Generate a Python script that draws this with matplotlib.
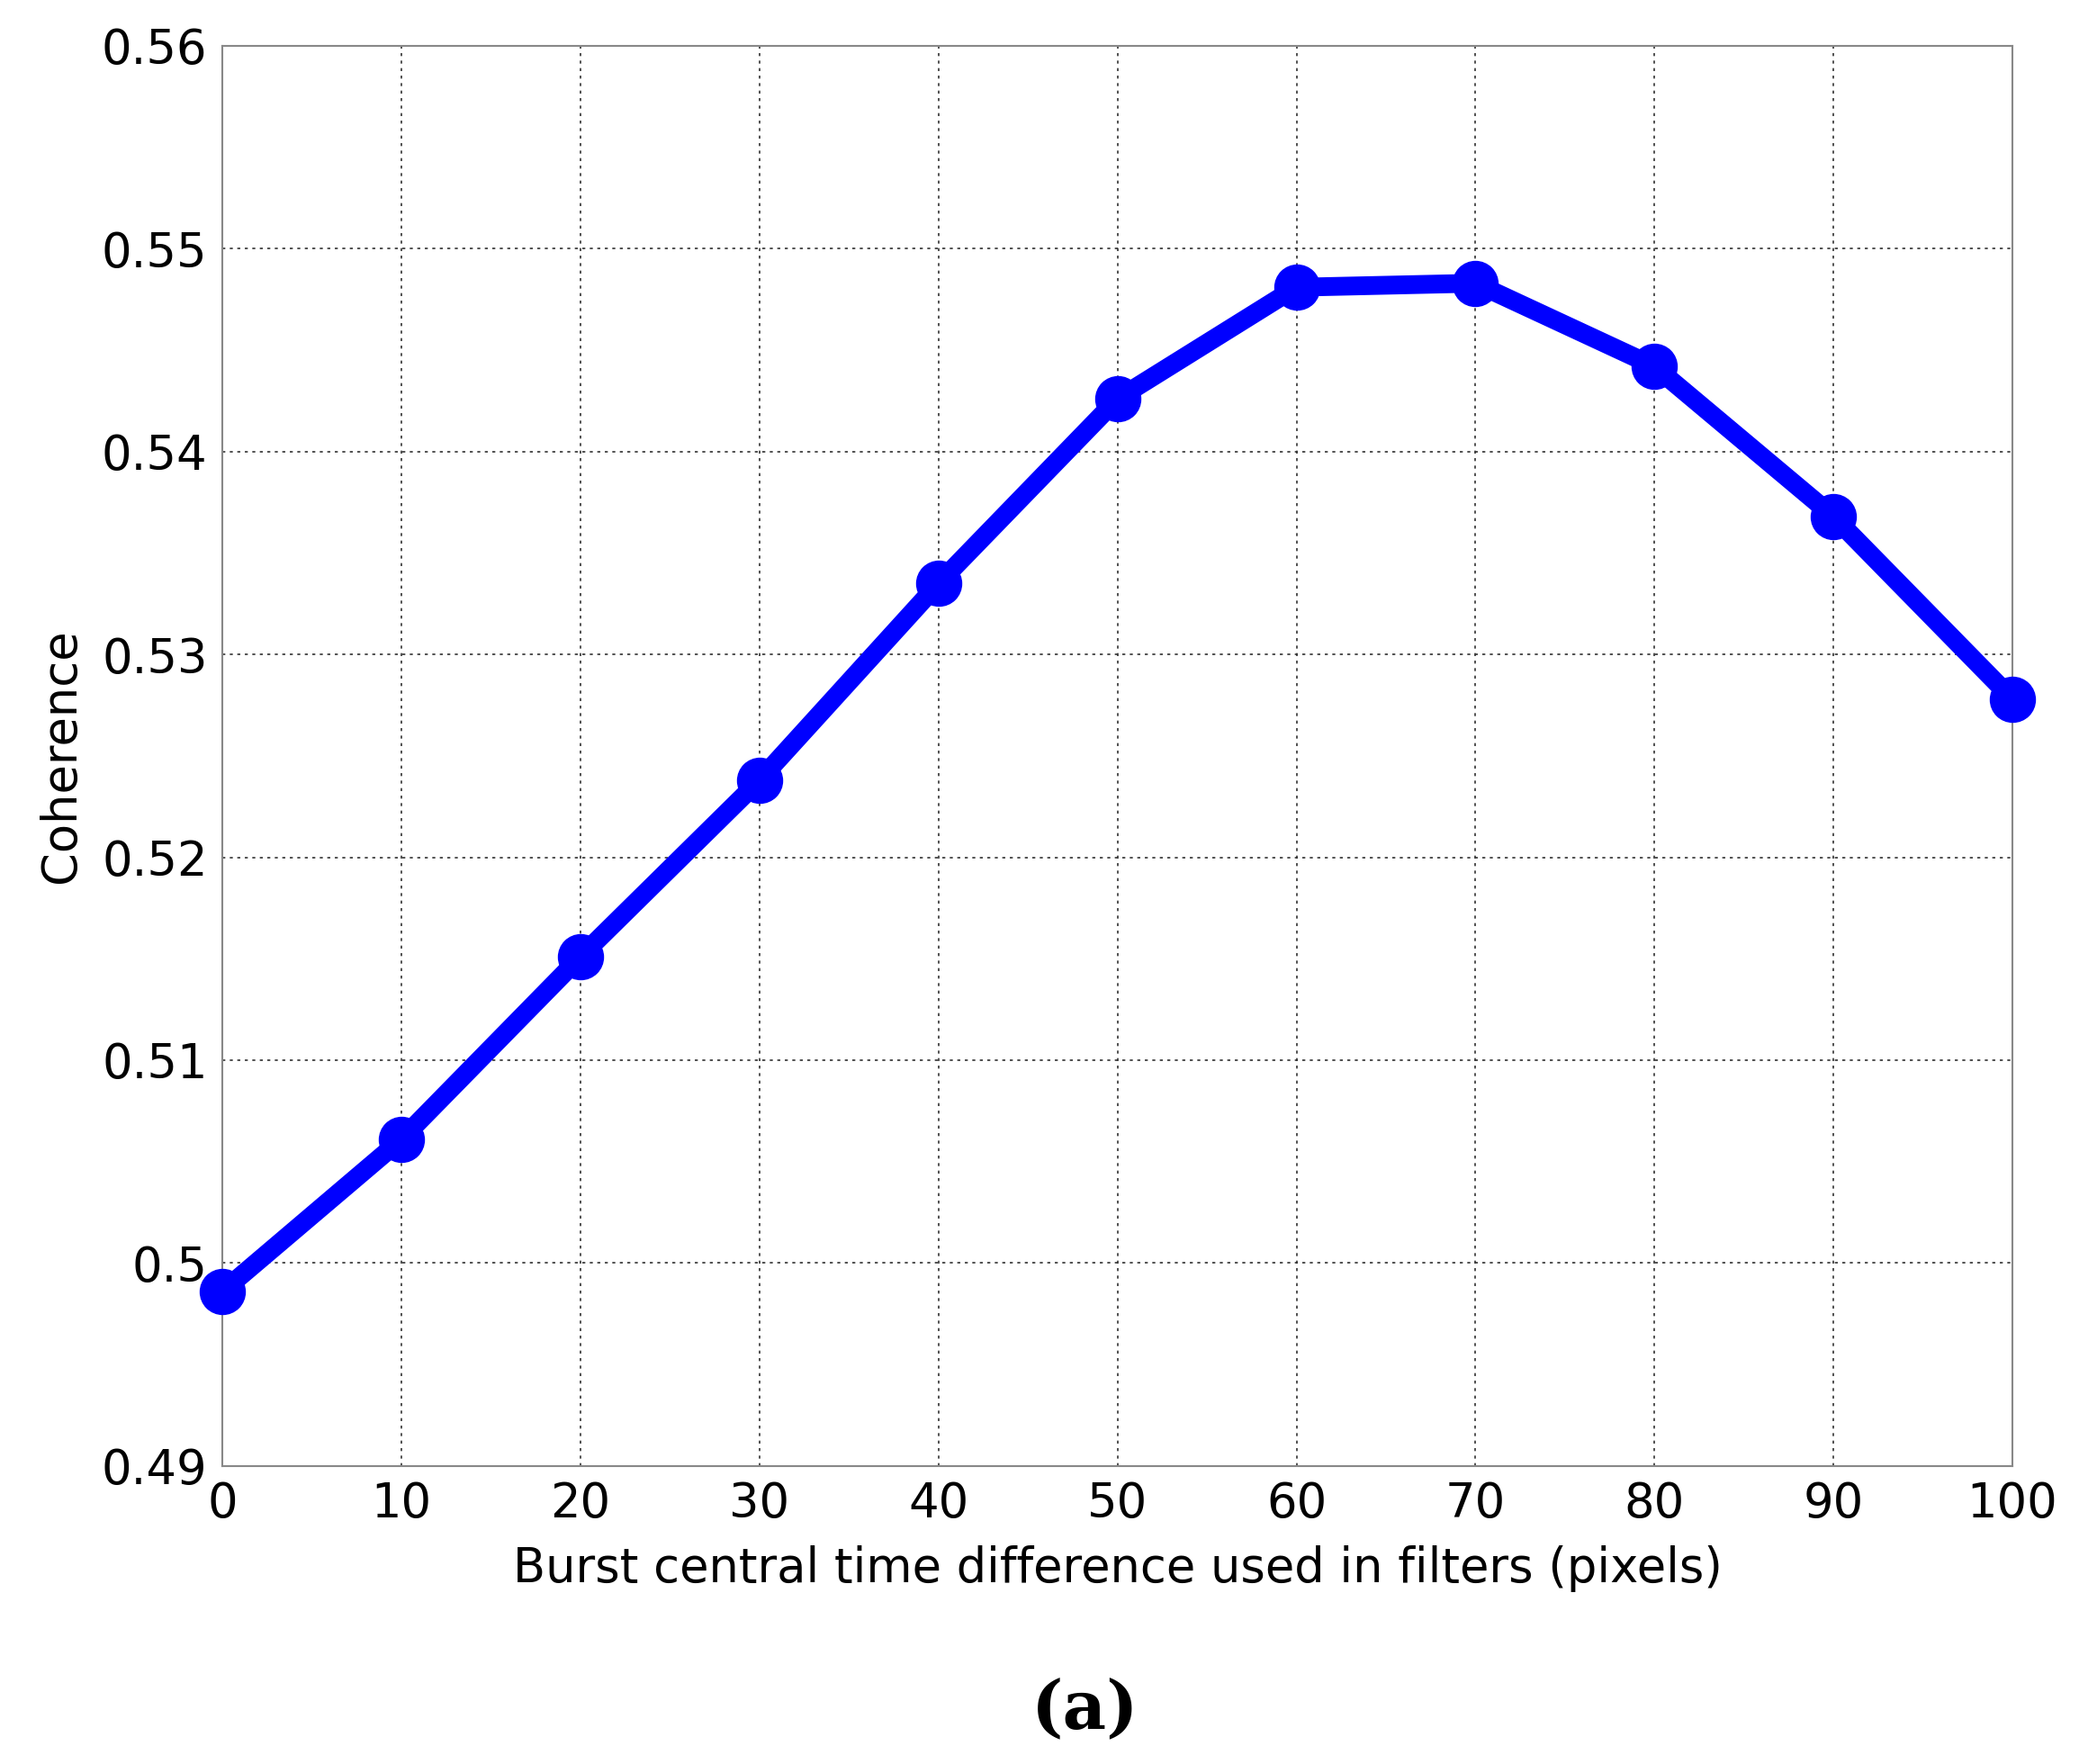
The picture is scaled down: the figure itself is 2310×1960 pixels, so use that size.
import matplotlib
matplotlib.use("Agg")
import matplotlib.pyplot as plt

x = [0, 10, 20, 30, 40, 50, 60, 70, 80, 90, 100]
coherence = [0.4986, 0.5061, 0.5151, 0.5238, 0.5335, 0.5426, 0.5481, 0.5483, 0.5442, 0.5368, 0.5278]
yticks = [0.49, 0.50, 0.51, 0.52, 0.53, 0.54, 0.55, 0.56]
ytick_labels = ["0.49", "0.5", "0.51", "0.52", "0.53", "0.54", "0.55", "0.56"]

fig = plt.figure(figsize=(23.1, 19.6), dpi=100)
ax = fig.add_axes([0.107, 0.169, 0.861, 0.805])
ax.plot(x, coherence, color="#0000ff", lw=15, marker="o", ms=36, mfc="#0000ff", mec="#0000ff", clip_on=False, zorder=3)
ax.set_xlim(0, 100)
ax.set_ylim(0.49, 0.56)
ax.set_xticks(x)
ax.set_yticks(yticks)
ax.set_yticklabels(ytick_labels)
ax.grid(True, color="#333333", linestyle=(0, (2, 3)), linewidth=1.2)
ax.tick_params(labelsize=38, length=0, pad=12)
for s in ax.spines.values():
    s.set_color("#888888")
    s.set_linewidth(1.5)
ax.set_xlabel("Burst central time difference used in filters (pixels)", fontsize=38, labelpad=14)
ax.set_ylabel("Coherence", fontsize=38, labelpad=14)
fig.text(0.522, 0.012, "(a)", fontsize=54, fontweight="bold", family="DejaVu Serif", ha="center", va="bottom")
fig.savefig("out.png", dpi=100, facecolor="white")
